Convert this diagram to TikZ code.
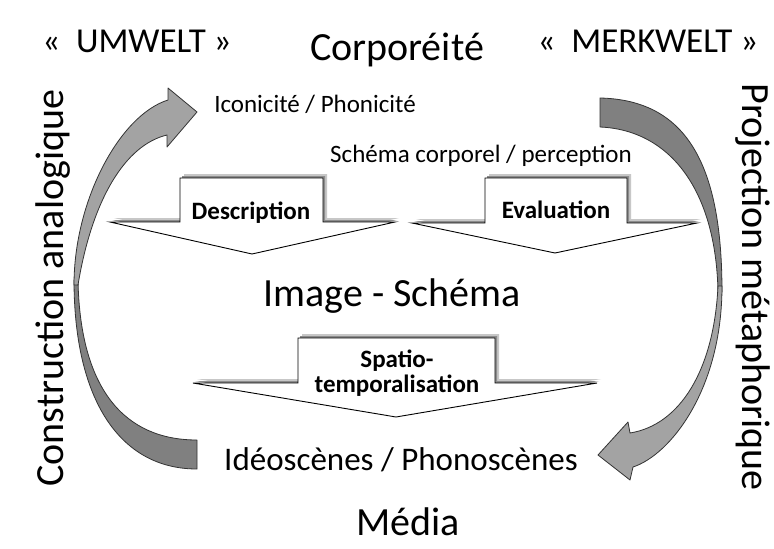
\documentclass[tikz,border=0pt]{standalone}
\usepackage{fontspec}
\setmainfont{Carlito}
\begin{document}
\begin{tikzpicture}[x=1pt,y=-1pt,
  lbl/.style={inner sep=0pt, anchor=base},
  bigtxt/.style={lbl, font=\fontsize{40}{46}\selectfont},
  midtxt/.style={lbl, font=\fontsize{35}{40}\selectfont},
  smalltxt/.style={lbl, font=\fontsize{25}{28}\selectfont},
  boldtxt/.style={lbl, font=\bfseries\fontsize{25}{26}\selectfont},
  blockarrow/.style={fill=white, draw=black, line width=0.9pt, line join=miter},
  shadeA/.style={fill=black!22},
  shadeB/.style={fill=black!45},
  darkpart/.style={fill=black!50, draw=black!80, line width=0.8pt, line join=round},
  lightpart/.style={fill=black!36, draw=black!80, line width=0.8pt, line join=round}]
\fill[white] (0,0) rectangle (774,549);
\useasboundingbox (0,0) rectangle (774,549);

% top labels
\node[midtxt] (umwelt) at (137,52) {«~~UMWELT~»};
\node[bigtxt] (corpo) at (397,60) {Corporéité};
\node[midtxt] (merkwelt) at (648,52) {«~~MERKWELT~»};
\node[smalltxt] (iconi) at (315,112) {Iconicité / Phonicité};
\node[smalltxt] (schcorp) at (481,162) {Schéma corporel / perception};

% side labels
\node[bigtxt, rotate=90] (constr) at (63,288) {Construction analogique};
\node[bigtxt, rotate=-90] (proj) at (742,287) {Projection métaphorique};

% center labels
\node[bigtxt] (imsch) at (392,306) {Image - Schéma};
\node[lbl, font=\fontsize{33}{38}\selectfont] (ideo) at (401,470) {Idéoscènes / Phonoscènes};
\node[bigtxt] (media) at (408,535) {Média};

% block arrow: Description
\fill[shadeA, shift={(4,-4)}] (110,222) -- (180,222) -- (180,178) -- (323,178) -- (323,222) -- (395,222) -- (252,254) -- cycle;
\fill[shadeB, shift={(2,-2)}] (110,222) -- (180,222) -- (180,178) -- (323,178) -- (323,222) -- (395,222) -- (252,254) -- cycle;
\draw[blockarrow] (110,222) -- (180,222) -- (180,178) -- (323,178) -- (323,222) -- (395,222) -- (252,254) -- cycle;
\node[boldtxt] (desc) at (251,219) {Description};

% block arrow: Evaluation
\fill[shadeA, shift={(4,-4)}] (412,223) -- (485,223) -- (485,178) -- (627,178) -- (627,223) -- (697,223) -- (555,253) -- cycle;
\fill[shadeB, shift={(2,-2)}] (412,223) -- (485,223) -- (485,178) -- (627,178) -- (627,223) -- (697,223) -- (555,253) -- cycle;
\draw[blockarrow] (412,223) -- (485,223) -- (485,178) -- (627,178) -- (627,223) -- (697,223) -- (555,253) -- cycle;
\node[boldtxt] (eval) at (556,218) {Evaluation};

% block arrow: Spatio-temporalisation
\fill[shadeA, shift={(4,-4)}] (193,383) -- (298,383) -- (298,338) -- (495,338) -- (495,383) -- (597,383) -- (396,417) -- cycle;
\fill[shadeB, shift={(2,-2)}] (193,383) -- (298,383) -- (298,338) -- (495,338) -- (495,383) -- (597,383) -- (396,417) -- cycle;
\draw[blockarrow] (193,383) -- (298,383) -- (298,338) -- (495,338) -- (495,383) -- (597,383) -- (396,417) -- cycle;
\node[boldtxt] (spat1) at (397,367) {Spatio-};
\node[boldtxt] (spat2) at (397,392) {temporalisation};

% left curved arrow (Construction analogique)
\draw[darkpart] (74,280) .. controls (74,400) and (120,469) .. (197,469) -- (197,440) .. controls (125,440) and (80,390) .. (78,280) -- cycle;
\draw[lightpart] (74,285) .. controls (74,200) and (120,115) .. (168,100) -- (168,88) -- (197,112) -- (167,147) -- (167,135) .. controls (125,145) and (92,200) .. (78,285) -- cycle;

% right curved arrow (Projection metaphorique)
\draw[darkpart] (600,98) .. controls (690,100) and (722,170) .. (722,292) -- (718,292) .. controls (716,190) and (670,130) .. (600,127) -- cycle;
\draw[lightpart] (722,286) .. controls (722,390) and (670,455) .. (633,467) -- (630,480) -- (598,455) -- (628,422) -- (630,433) .. controls (680,425) and (714,370) .. (718,286) -- cycle;
\end{tikzpicture}
\end{document}
